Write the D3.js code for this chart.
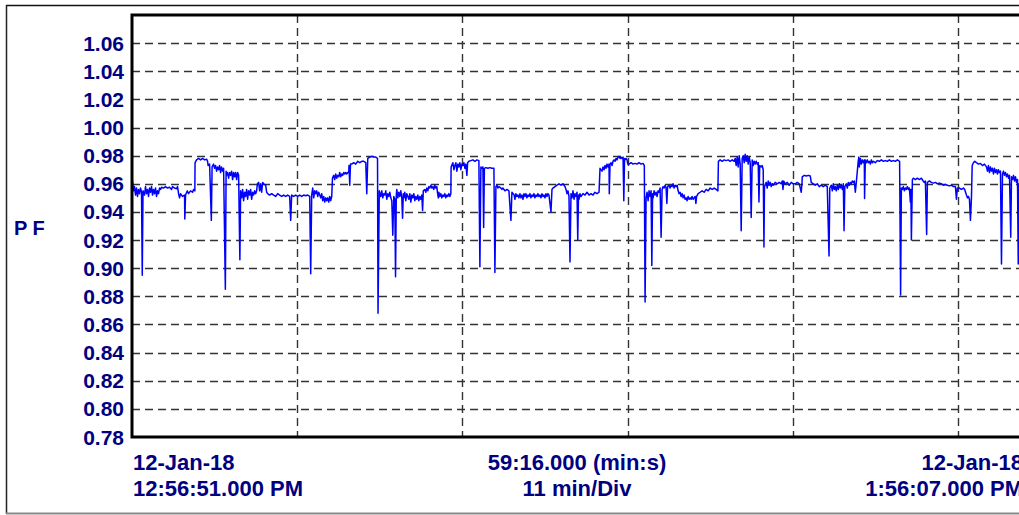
<!DOCTYPE html>
<html>
<head>
<meta charset="utf-8">
<script src="https://cdn.jsdelivr.net/npm/d3@7"></script>
<style>
  html, body { margin: 0; padding: 0; background: #fff; }
  svg text { font-family: "Liberation Sans", Arial, sans-serif; font-weight: bold; fill: #000080; }
</style>
</head>
<body>
<div id="chart"></div>
<script>
// PF trend, 12-Jan-18, seconds from 12:56:51 PM and power factor
var pfSamples = [
  [2,.962],[6,.955],[10,.958],[14,.952],[18,.957],[22,.951],[26,.956],[30,.953],[34,.957],[38,.954],[41,.895],[44,.955],
  [50,.952],[54,.958],[58,.953],[62,.956],[66,.951],[70,.957],[74,.954],[78,.958],[82,.952],[86,.956],[90,.953],[94,.957],
  [98,.951],[102,.955],[106,.953],[110,.957],[114,.956],[118,.9575],[126,.957],[134,.958],[142,.957],[150,.9575],[158,.956],
  [162,.958],[170,.957],[178,.9565],[182,.958],[186,.953],[190,.950],[194,.953],[202,.951],[210,.952],[211,.935],[214,.952],
  [221,.955],[226,.953],[234,.955],[242,.954],[246,.956],[251,.955],[252,.975],[258,.977],[266,.978],[274,.977],[282,.978],
  [290,.977],[298,.9775],[302,.976],[304,.973],[310,.974],[317,.934],[320,.972],[326,.974],[330,.971],[334,.973],[338,.969],
  [342,.972],[346,.970],[350,.973],[354,.968],[358,.972],[362,.969],[366,.971],[373,.885],[376,.969],[378,.966],[382,.968],
  [386,.964],[390,.968],[394,.966],[398,.969],[402,.963],[406,.968],[410,.965],[414,.968],[418,.963],[422,.968],[426,.966],
  [431,.906],[434,.955],[438,.950],[442,.956],[446,.948],[450,.954],[454,.951],[458,.956],[462,.949],[466,.955],[470,.952],
  [474,.956],[478,.949],[482,.954],[486,.952],[490,.955],[494,.953],[498,.955],[501,.960],[506,.961],[510,.955],[514,.960],
  [518,.954],[522,.961],[526,.960],[534,.959],[538,.954],[542,.953],[550,.952],[558,.953],[566,.952],[574,.951],[582,.953],
  [590,.952],[598,.951],[606,.952],[614,.951],[622,.952],[630,.951],[634,.934],[638,.952],[646,.951],[654,.952],[662,.951],
  [670,.952],[678,.951],[686,.952],[694,.9515],[702,.952],[710,.951],[714,.896],[718,.952],[722,.957],[726,.950],[730,.955],
  [734,.953],[738,.955],[742,.951],[746,.954],[750,.952],[754,.950],[758,.953],[762,.948],[766,.951],[770,.947],[774,.950],
  [778,.948],[782,.950],[786,.947],[790,.951],[794,.948],[798,.951],[801,.964],[806,.966],[810,.963],[814,.967],[818,.964],
  [822,.966],[826,.965],[830,.968],[834,.965],[838,.967],[842,.966],[846,.968],[850,.967],[854,.968],[858,.967],[862,.968],
  [866,.968],[867,.973],[870,.959],[873,.974],[878,.974],[886,.975],[894,.974],[902,.976],[910,.975],[918,.976],[926,.976],
  [934,.975],[938,.953],[942,.978],[950,.979],[958,.9795],[966,.979],[974,.979],[981,.978],[983,.868],[988,.955],
  [994,.951],[998,.955],[1002,.950],[1006,.953],[1010,.952],[1014,.955],[1018,.949],[1022,.953],[1026,.951],[1030,.954],
  [1034,.950],[1038,.948],[1042,.9235],[1046,.951],[1050,.949],[1053,.894],[1056,.952],[1058,.956],[1062,.950],[1066,.954],
  [1070,.951],[1074,.955],[1078,.950],[1081,.9355],[1084,.953],[1086,.950],[1090,.954],[1094,.948],[1098,.953],[1102,.951],
  [1106,.949],[1110,.953],[1114,.947],[1118,.952],[1122,.950],[1126,.953],[1130,.948],[1134,.951],[1138,.949],[1142,.952],
  [1146,.948],[1150,.951],[1154,.949],[1158,.952],[1161,.941],[1164,.955],[1170,.956],[1174,.954],[1178,.957],[1182,.955],
  [1186,.958],[1190,.957],[1194,.959],[1198,.957],[1202,.958],[1206,.956],[1210,.959],[1214,.957],[1218,.958],[1221,.953],
  [1224,.950],[1226,.954],[1230,.951],[1234,.953],[1238,.950],[1242,.952],[1246,.951],[1250,.953],[1254,.950],[1258,.952],
  [1262,.951],[1266,.953],[1270,.951],[1274,.953],[1275,.972],[1282,.975],[1286,.970],[1290,.973],[1294,.975],[1298,.969],
  [1302,.974],[1306,.972],[1310,.975],[1314,.970],[1318,.974],[1322,.973],[1326,.975],[1330,.971],[1334,.974],[1338,.966],
  [1341,.975],[1346,.976],[1354,.9765],[1362,.977],[1370,.976],[1378,.977],[1386,.9765],[1390,.901],[1394,.972],[1398,.971],
  [1402,.972],[1405,.929],[1408,.971],[1414,.9715],[1422,.971],[1430,.9715],[1438,.971],[1446,.971],[1450,.897],[1454,.958],
  [1458,.959],[1462,.957],[1466,.958],[1474,.957],[1478,.956],[1482,.957],[1490,.955],[1498,.956],[1506,.955],[1514,.934],
  [1518,.954],[1527,.952],[1530,.949],[1534,.953],[1538,.951],[1542,.952],[1546,.950],[1550,.953],[1554,.950],[1558,.952],
  [1562,.949],[1566,.953],[1570,.951],[1574,.953],[1578,.950],[1582,.952],[1586,.951],[1590,.953],[1594,.950],[1598,.952],
  [1602,.951],[1606,.953],[1610,.950],[1614,.952],[1618,.951],[1622,.953],[1626,.951],[1630,.952],[1634,.950],[1638,.953],
  [1642,.951],[1646,.952],[1650,.950],[1654,.953],[1658,.951],[1662,.953],[1666,.952],[1674,.940],[1678,.956],[1682,.957],
  [1690,.958],[1698,.959],[1706,.960],[1714,.959],[1722,.960],[1730,.958],[1734,.956],[1738,.953],[1742,.955],[1746,.951],
  [1750,.9045],[1754,.953],[1758,.950],[1762,.955],[1766,.949],[1770,.953],[1774,.951],[1778,.954],[1781,.920],[1784,.952],
  [1786,.949],[1790,.953],[1794,.951],[1802,.953],[1810,.952],[1818,.954],[1826,.952],[1834,.953],[1842,.952],[1850,.954],
  [1858,.953],[1866,.954],[1870,.971],[1878,.969],[1882,.972],[1886,.970],[1890,.973],[1894,.971],[1898,.974],[1902,.972],
  [1906,.974],[1907,.953],[1910,.974],[1914,.975],[1918,.973],[1922,.976],[1926,.977],[1930,.976],[1934,.978],[1938,.977],
  [1942,.979],[1946,.9795],[1950,.978],[1954,.979],[1958,.978],[1962,.979],[1965,.948],[1968,.978],[1970,.977],[1974,.978],
  [1978,.977],[1981,.974],[1986,.974],[1994,.975],[2002,.974],[2010,.9745],[2018,.974],[2026,.975],[2034,.974],[2042,.9745],
  [2047,.973],[2050,.876],[2054,.950],[2058,.954],[2062,.948],[2066,.955],[2070,.951],[2074,.955],[2077,.902],[2080,.953],
  [2082,.950],[2086,.955],[2090,.952],[2094,.954],[2098,.951],[2102,.955],[2106,.954],[2110,.957],[2114,.922],[2118,.956],
  [2122,.958],[2126,.957],[2130,.959],[2134,.957],[2137,.946],[2140,.958],[2146,.959],[2150,.957],[2154,.959],[2158,.958],
  [2162,.960],[2166,.957],[2170,.959],[2174,.958],[2178,.959],[2182,.955],[2186,.953],[2190,.954],[2194,.951],[2198,.953],
  [2202,.950],[2206,.952],[2210,.949],[2214,.950],[2218,.948],[2222,.951],[2226,.949],[2230,.950],[2234,.949],[2238,.951],
  [2242,.949],[2246,.950],[2250,.951],[2253,.946],[2256,.951],[2262,.953],[2270,.954],[2278,.955],[2286,.954],[2294,.956],
  [2302,.955],[2310,.957],[2318,.956],[2326,.957],[2334,.956],[2341,.955],[2343,.976],[2350,.977],[2358,.976],[2366,.977],
  [2374,.9765],[2382,.977],[2390,.976],[2398,.977],[2406,.976],[2410,.978],[2414,.973],[2418,.979],[2422,.972],[2426,.980],
  [2430,.974],[2434,.9266],[2438,.978],[2442,.980],[2446,.975],[2450,.981],[2454,.976],[2458,.980],[2462,.974],[2466,.979],
  [2470,.975],[2474,.936],[2478,.977],[2482,.973],[2486,.976],[2490,.974],[2494,.976],[2498,.974],[2502,.975],[2505,.947],
  [2508,.973],[2514,.972],[2518,.973],[2522,.970],[2525,.915],[2527,.958],[2534,.961],[2538,.957],[2542,.962],[2546,.959],
  [2550,.961],[2554,.958],[2558,.960],[2562,.959],[2570,.961],[2578,.960],[2586,.961],[2594,.960],[2598,.962],[2601,.956],
  [2604,.962],[2610,.960],[2618,.961],[2626,.959],[2634,.961],[2642,.960],[2650,.960],[2658,.961],[2666,.960],[2674,.954],
  [2677,.961],[2678,.965],[2686,.966],[2694,.9655],[2702,.966],[2710,.9655],[2714,.961],[2722,.960],[2730,.959],[2738,.960],
  [2746,.958],[2754,.959],[2762,.958],[2770,.959],[2778,.958],[2785,.9086],[2788,.957],[2794,.959],[2798,.955],[2802,.960],
  [2806,.956],[2810,.958],[2814,.955],[2818,.959],[2822,.956],[2826,.960],[2830,.957],[2834,.959],[2838,.956],[2842,.960],
  [2845,.9266],[2848,.958],[2854,.960],[2858,.957],[2862,.961],[2866,.959],[2870,.961],[2874,.960],[2878,.962],[2882,.961],
  [2886,.962],[2890,.954],[2894,.961],[2901,.975],[2904,.979],[2906,.972],[2910,.978],[2914,.974],[2918,.977],[2922,.975],
  [2926,.977],[2927,.9496],[2930,.977],[2934,.975],[2938,.977],[2942,.975],[2946,.976],[2950,.974],[2954,.977],[2958,.975],
  [2962,.976],[2970,.975],[2978,.9765],[2986,.976],[2994,.977],[3002,.976],[3010,.9765],[3018,.976],[3026,.977],[3034,.976],
  [3042,.9765],[3050,.976],[3058,.977],[3067,.976],[3071,.881],[3074,.957],[3078,.956],[3082,.958],[3086,.955],[3090,.957],
  [3094,.956],[3098,.958],[3102,.956],[3106,.957],[3110,.947],[3112,.956],[3114,.920],[3118,.963],[3122,.964],[3130,.963],
  [3138,.964],[3146,.963],[3154,.964],[3161,.962],[3166,.961],[3170,.962],[3175,.924],[3178,.961],[3186,.962],[3194,.961],
  [3202,.9605],[3210,.961],[3218,.960],[3226,.9605],[3234,.960],[3242,.959],[3250,.9595],[3258,.959],[3266,.9585],[3274,.959],
  [3282,.958],[3290,.958],[3294,.949],[3298,.957],[3306,.957],[3314,.956],[3322,.957],[3327,.956],[3334,.952],[3338,.950],
  [3342,.951],[3346,.949],[3350,.934],[3354,.950],[3357,.973],[3362,.975],[3367,.976],[3374,.975],[3382,.974],[3390,.9745],
  [3398,.973],[3406,.974],[3414,.972],[3418,.969],[3422,.973],[3426,.968],[3430,.972],[3434,.969],[3438,.971],[3442,.967],
  [3446,.971],[3450,.968],[3454,.970],[3458,.967],[3462,.970],[3466,.968],[3470,.969],[3474,.903],[3478,.967],[3482,.969],
  [3486,.966],[3490,.968],[3494,.965],[3498,.967],[3502,.964],[3506,.966],[3511,.922],[3514,.965],[3518,.963],[3522,.966],
  [3526,.962],[3530,.965],[3534,.961],[3538,.963],[3541,.903],[3544,.960],[3546,.948],[3550,.955],[3554,.958],[3556,.957]
];

var yTicks = [0.78, 0.80, 0.82, 0.84, 0.86, 0.88, 0.90, 0.92, 0.94, 0.96, 0.98, 1.00, 1.02, 1.04, 1.06, 1.08];
var yLabelTicks = yTicks.slice(0, 15);   // 1.08 sits on the frame, not labelled
var xDivSec = 660;                        // 11 min/Div
var spanSec = 3556;                       // 59:16.000
var startLabel = ['12-Jan-18', '12:56:51.000 PM'];
var midLabel = ['59:16.000 (min:s)', '11 min/Div'];
var endLabel = ['12-Jan-18', '1:56:07.000 PM'];
var yTitle = 'P F';

var W = 1019, H = 515;
var plot = { left: 132, top: 15, right: 1022, bottom: 437 };

var svg = d3.select('#chart').append('svg')
  .attr('width', W)
  .attr('height', H);

// outer frame
svg.append('line').attr('x1', 6).attr('x2', W).attr('y1', 5.5).attr('y2', 5.5)
  .attr('stroke', '#111').attr('stroke-width', 1.5);
svg.append('line').attr('x1', 6.5).attr('x2', 6.5).attr('y1', 5).attr('y2', 514)
  .attr('stroke', '#222').attr('stroke-width', 1.5);
svg.append('line').attr('x1', 6).attr('x2', W).attr('y1', 513.5).attr('y2', 513.5)
  .attr('stroke', '#888').attr('stroke-width', 2);

var x = d3.scaleLinear().domain([0, spanSec]).range([plot.left, plot.right]);
var y = d3.scaleLinear().domain([0.78, 1.08]).range([plot.bottom, plot.top]);

// grid
var xGrid = d3.range(xDivSec, spanSec, xDivSec);
svg.append('g').selectAll('line.hg')
  .data(yTicks.slice(1, 15))
  .enter().append('line')
    .attr('x1', plot.left).attr('x2', W)
    .attr('y1', function(d){ return Math.round(y(d)) + 0.5; })
    .attr('y2', function(d){ return Math.round(y(d)) + 0.5; })
    .attr('stroke', '#333').attr('stroke-width', 1.4)
    .attr('stroke-dasharray', '8,5');
svg.append('g').selectAll('line.vg')
  .data(xGrid)
  .enter().append('line')
    .attr('x1', function(d){ return Math.round(x(d)) + 0.5; })
    .attr('x2', function(d){ return Math.round(x(d)) + 0.5; })
    .attr('y1', plot.top).attr('y2', plot.bottom)
    .attr('stroke', '#333').attr('stroke-width', 1.4)
    .attr('stroke-dasharray', '8,5');

// data line
svg.append('clipPath').attr('id', 'clip')
  .append('rect')
    .attr('x', plot.left).attr('y', plot.top)
    .attr('width', plot.right - plot.left).attr('height', plot.bottom - plot.top);

var line = d3.line()
  .x(function(d){ return x(d[0]); })
  .y(function(d){ return y(d[1]); });

svg.append('path')
  .datum(pfSamples)
  .attr('clip-path', 'url(#clip)')
  .attr('d', line)
  .attr('fill', 'none')
  .attr('stroke', '#0000ff')
  .attr('stroke-width', 1.5)
  .attr('stroke-linejoin', 'round');

// plot frame (thick, left/top/bottom)
svg.append('path')
  .attr('d', 'M' + W + ',' + plot.top + 'H' + plot.left + 'V' + plot.bottom + 'H' + W)
  .attr('fill', 'none')
  .attr('stroke', '#000')
  .attr('stroke-width', 3);

// y tick labels
svg.append('g').selectAll('text')
  .data(yLabelTicks)
  .enter().append('text')
    .attr('x', 124)
    .attr('y', function(d){ return y(d) + 7.5; })
    .attr('text-anchor', 'end')
    .style('font-size', '21px')
    .text(function(d){ return d3.format('.2f')(d); });

svg.append('text')
  .attr('x', 14).attr('y', 235)
  .style('font-size', '20px')
  .text(yTitle);

// x labels
function twoLines(lines, xpos, anchor) {
  var t = svg.append('text').attr('text-anchor', anchor).style('font-size', '22px');
  t.append('tspan').attr('x', xpos).attr('y', 470).text(lines[0]);
  t.append('tspan').attr('x', xpos).attr('y', 496).text(lines[1]);
}
twoLines(startLabel, plot.left + 1, 'start');
twoLines(midLabel, (plot.left + plot.right) / 2, 'middle');
twoLines(endLabel, plot.right + 1, 'end');
</script>
</body>
</html>
